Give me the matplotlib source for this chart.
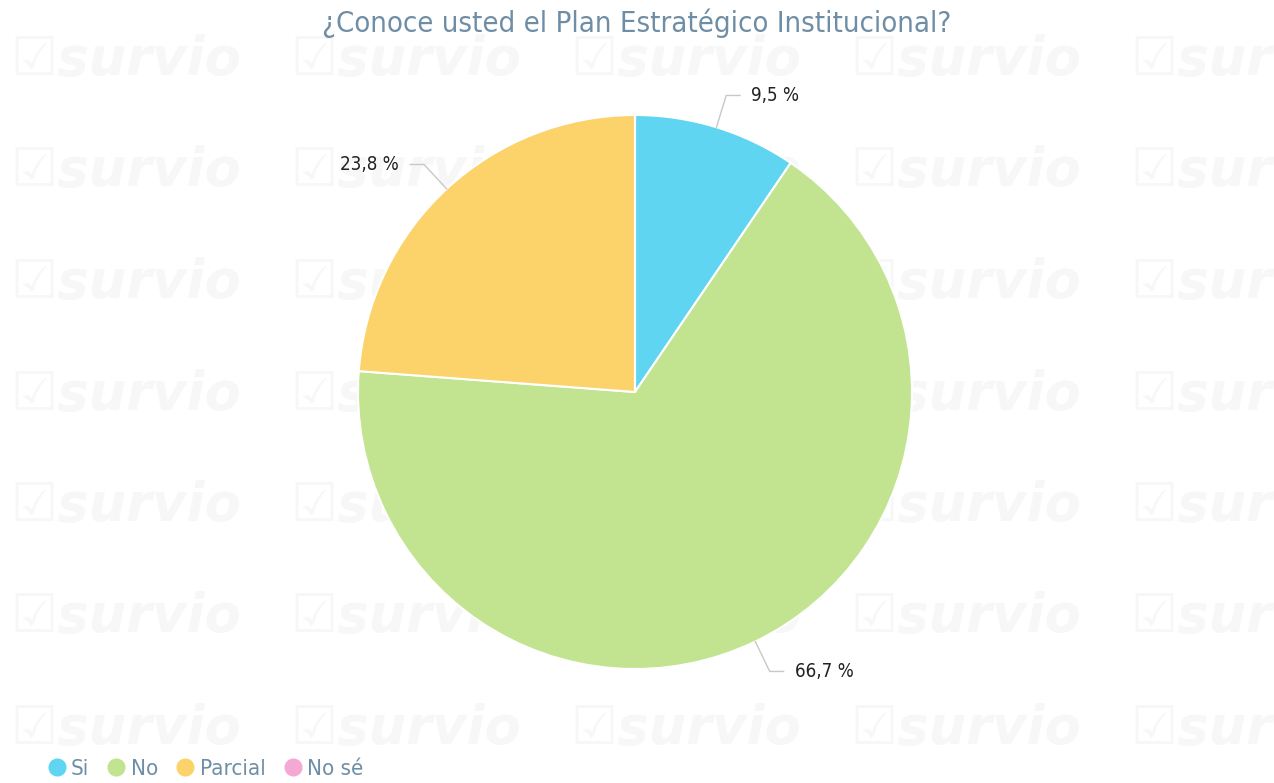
import numpy as np
import matplotlib.pyplot as plt
from matplotlib.lines import Line2D
from matplotlib import font_manager

categories = ["Si", "No", "Parcial", "No sé"]
values = [9.5, 66.7, 23.8, 0.0]
labels = ["9,5 %", "66,7 %", "23,8 %", ""]
colors = ["#5fd5f1", "#c2e38f", "#fcd36a", "#f3a9d4"]
title = "¿Conoce usted el Plan Estratégico Institucional?"

names = {f.name for f in font_manager.fontManager.ttflist}
cond = "DejaVu Sans Condensed" if "DejaVu Sans Condensed" in names else "DejaVu Sans"
plt.rcParams["font.family"] = [cond, "DejaVu Sans"]
plt.rcParams["font.stretch"] = "condensed"

W, H = 1274, 783
fig = plt.figure(figsize=(W / 100, H / 100), dpi=100)
fig.patch.set_facecolor("white")

# faint watermark grid behind everything
bg = fig.add_axes([0, 0, 1, 1], zorder=-1)
bg.set_xlim(0, W)
bg.set_ylim(H, 0)
bg.axis("off")
for col in range(5):
    for row in range(7):
        x = 10 + col * 280
        y = 60 + row * 111.5
        bg.text(x, y, "☑survio", fontsize=38, fontweight="bold",
                fontstyle="italic", color="#f7f7f7", va="center", ha="left",
                family="DejaVu Sans", stretch="normal", clip_on=True)

cx, cy, r = 635, 392, 277
ax = fig.add_axes([(cx - r) / W, (H - cy - r) / H, 2 * r / W, 2 * r / H])
ax.set_facecolor("none")
wedges, _ = ax.pie(values, colors=colors, startangle=90, counterclock=False,
                   radius=1.0, wedgeprops=dict(edgecolor="white", linewidth=1.5))
ax.set_xlim(-1, 1)
ax.set_ylim(-1, 1)
ax.set_aspect("equal")
ax.axis("off")

total = sum(values)
start = 90.0
for v, lab in zip(values, labels):
    span = v / total * 360
    mid = np.radians(start - span / 2)
    start -= span
    if not lab:
        continue
    p0 = np.array([np.cos(mid), np.sin(mid)])
    p1 = p0 * 1.12
    side = 1 if p0[0] >= 0 else -1
    p2 = p1 + np.array([side * 0.05, 0])
    ax.plot([p0[0], p1[0], p2[0]], [p0[1], p1[1], p2[1]], color="#c8c8c8",
            lw=1.0, clip_on=False)
    ax.text(p2[0] + side * 0.04, p2[1], lab, ha="left" if side > 0 else "right",
            va="center", fontsize=13.5, color="#222222")

fig.text(0.5, 1 - 23 / H, title, ha="center", va="center", fontsize=21,
         color="#6f8ea5")

handles = [Line2D([], [], marker="o", linestyle="", markersize=12,
                  markerfacecolor=c, markeredgecolor=c) for c in colors]
leg = fig.legend(handles, categories, loc="center left",
                 bbox_to_anchor=(45 / W, 1 - 769 / H), ncol=4, frameon=False,
                 fontsize=16, handletextpad=0.12, columnspacing=0.7,
                 handlelength=1.05, borderpad=0, borderaxespad=0)
for t in leg.get_texts():
    t.set_color("#6f8ea5")

fig.savefig("out.png", dpi=100)
